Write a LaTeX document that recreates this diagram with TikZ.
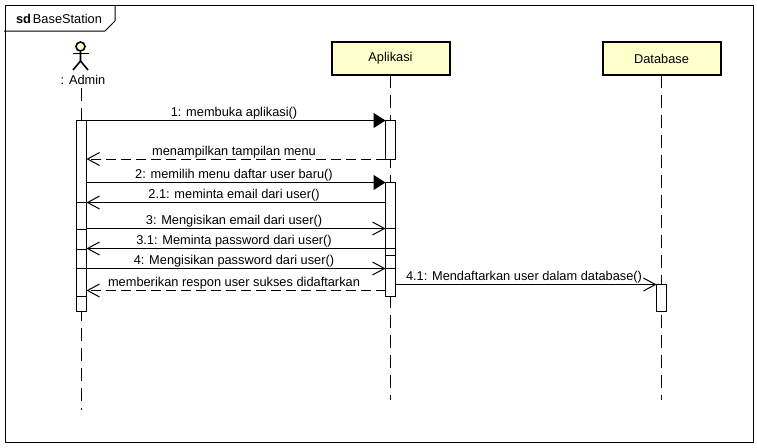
\documentclass[tikz,border=0pt]{standalone}
\usepackage{fontspec}
\setmainfont{Liberation Sans}
\usepackage{xcolor}
\usetikzlibrary{positioning,arrows.meta}
\definecolor{LifeYellow}{HTML}{FFFFCC}

\begin{document}
\begin{tikzpicture}[x=1pt,y=-1pt,line width=1pt,
                    every node/.style={font=\fontsize{12.8}{15}\selectfont},
                    lifebox/.style={draw=black, line width=2pt, fill=LifeYellow, minimum width=118pt,
                                    minimum height=33pt, inner sep=0pt, outer sep=0pt},
                    lifeline/.style={draw=black, dash pattern=on 13pt off 7pt},
                    actbar/.style={draw=black, fill=white, minimum width=10pt, inner sep=0pt, outer sep=0pt},
                    msglabel/.style={above=0.5pt, xshift=-2pt, inner sep=0pt, text height=9pt, text depth=3pt},
                    syncmsg/.style={draw=black, -{Triangle[length=12pt,width=15pt]}},
                    callmsg/.style={draw=black, -{Straight Barb[length=12pt,width=13pt]}},
                    backmsg/.style={draw=black, dash pattern=on 10pt off 5pt, -{Straight Barb[length=12pt,width=13pt]}}]
\useasboundingbox (0,0) rectangle (757,447);
\fill[white] (0,0) rectangle (757,447);
% frame and its tab
\node[draw=black, minimum width=748pt, minimum height=437pt, inner sep=0pt] (frame) at (379.5,223.5) {};
\node[inner sep=0pt] (title) at (59,19) {\textbf{sd}\hspace{2pt}BaseStation};
\draw[black] (4,31) -- (105,31) -- (115,21) -- (115,5);
% actor
\node (admin) at (83,79.5) {: Admin};
\node[draw=black, circle, line width=1.6pt, fill=LifeYellow, minimum size=9pt, inner sep=0pt] (head) at (80.5,46.5) {};
\draw[line width=1.6pt] (head.south) -- (80.5,61) -- (73,70);
\draw[line width=1.6pt] (80.5,61) -- (88,70);
\draw[line width=1.6pt] (73,53.5) -- (89,53.5);
% lifelines
\node[lifebox] (app) at (390.5,58.5) {Aplikasi};
\node[lifebox, right=153pt of app] (db) {Database};
\coordinate (adminend) at (81.5,410);
\coordinate (append) at (390.5,400);
\coordinate (dbend) at (661.5,400);
\draw[lifeline] (81.5,88) -- (adminend);
\draw[lifeline] (app.south) -- (append);
\draw[lifeline] (db.south) -- (dbend);
% activation bars
\node[actbar, minimum height=191pt] (adm1) at (81.5,215.5) {};
\node[actbar, minimum height=27pt] (adm2) at (81.5,215.5) {};
\node[actbar, minimum height=47pt] (adm3) at (81.5,272.5) {};
\node[actbar, minimum height=28pt] (adm4) at (81.5,282) {};
\node[actbar, minimum height=39pt] (app1) at (390.5,139.5) {};
\node[actbar, minimum height=114pt] (app2) at (390.5,239) {};
\node[actbar, minimum height=20pt] (app3) at (390.5,238.5) {};
\node[actbar, minimum height=41pt] (app4) at (390.5,275.5) {};
\node[actbar, minimum height=28pt] (app5) at (390.5,282) {};
\node[actbar, minimum height=27pt] (db1) at (661.5,297.5) {};
% messages
\coordinate (m1) at (0,120.5);
\coordinate (m2) at (0,159);
\coordinate (m3) at (0,182.5);
\coordinate (m4) at (0,202.5);
\coordinate (m5) at (0,228.5);
\coordinate (m6) at (0,248.5);
\coordinate (m7) at (0,268.5);
\coordinate (m8) at (0,290.5);
\coordinate (m9) at (0,284.5);
\draw[syncmsg] (adm1.east |- m1) -- node[msglabel] (l1) {1: membuka aplikasi()} (app1.west |- m1);
\draw[backmsg] (app1.west |- m2) -- node[msglabel] (l2) {menampilkan tampilan menu} (adm1.east |- m2);
\draw[syncmsg] (adm1.east |- m3) -- node[msglabel] (l3) {2: memilih menu daftar user baru()} (app2.west |- m3);
\draw[callmsg] (app2.west |- m4) -- node[msglabel] (l4) {2.1: meminta email dari user()} (adm1.east |- m4);
\draw[callmsg] (adm1.east |- m5) -- node[msglabel] (l5) {3: Mengisikan email dari user()} (app2.west |- m5);
\draw[callmsg] (app2.west |- m6) -- node[msglabel] (l6) {3.1: Meminta password dari user()} (adm1.east |- m6);
\draw[callmsg] (adm1.east |- m7) -- node[msglabel] (l7) {4: Mengisikan password dari user()} (app2.west |- m7);
\draw[backmsg] (app2.west |- m8) -- node[msglabel] (l8) {memberikan respon user sukses didaftarkan} (adm1.east |- m8);
\draw[callmsg] (app2.east |- m9) -- node[msglabel] (l9) {4.1: Mendaftarkan user dalam database()} (db1.west |- m9);
\end{tikzpicture}
\end{document}
